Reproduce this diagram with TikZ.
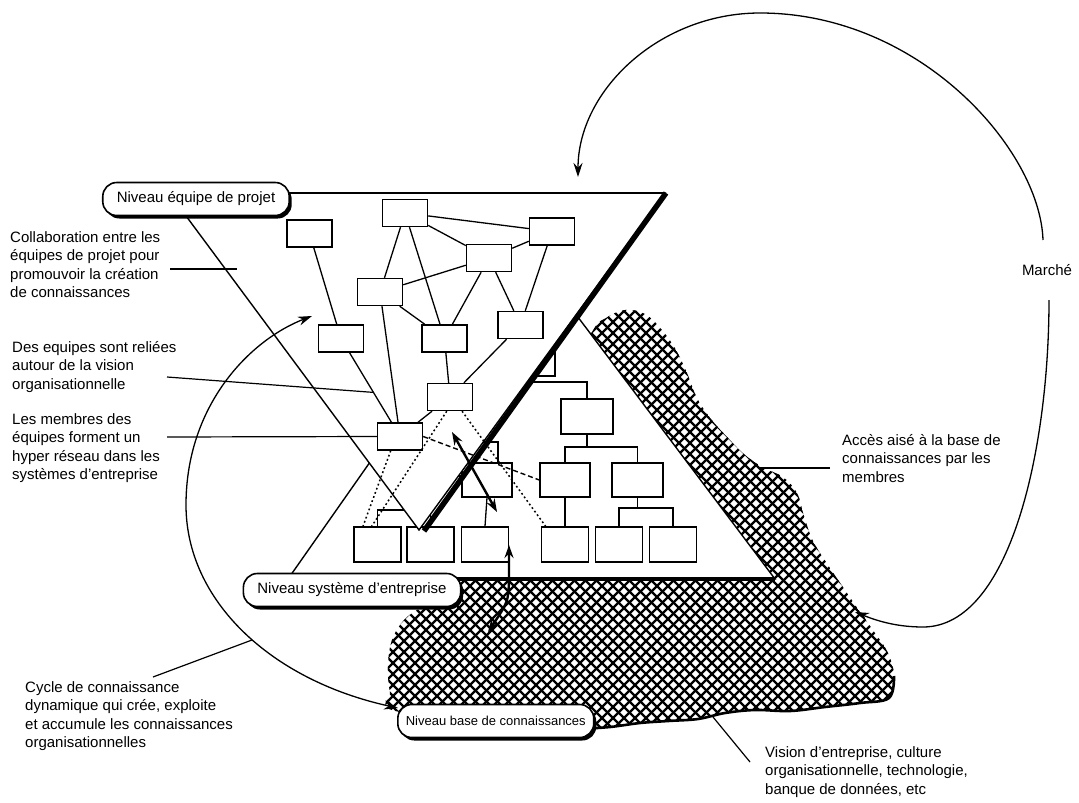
\documentclass[tikz,border=0pt]{standalone}
\usepackage{fontspec}
\setmainfont{Liberation Sans}
\usetikzlibrary{arrows.meta,shadows,calc}
\begin{document}
\begin{tikzpicture}[x=1pt,y=-1pt,
  box/.style={draw,fill=white,line width=1.4,minimum width=45,minimum height=27,inner sep=0},
  obox/.style={draw,fill=white,line width=1.4,minimum width=47,minimum height=35,inner sep=0},
  link/.style={line width=1.3},
  org/.style={line width=1.3},
  lead/.style={line width=1.2},
  hatchline/.style={line width=2.2},
  dots/.style={line width=1.5,dash pattern=on 1.8pt off 2.6pt},
  dashes/.style={line width=1.4,dash pattern=on 5pt off 3pt},
  bigarrow/.style={line width=2.4,{Stealth[length=13pt,width=9pt]}-{Stealth[length=13pt,width=9pt]}},
  loopline/.style={line width=1.3},
  tipend/.style={-{Stealth[length=14pt,width=9pt]}},
  tipboth/.style={{Stealth[length=14pt,width=9pt]}-{Stealth[length=14pt,width=9pt]}},
  txt/.style={anchor=north west,align=left,inner sep=0,font=\fontsize{15}{18.6}\selectfont},
  pill/.style={draw,line width=1.6,fill=white,rounded corners=14,minimum height=33,
    inner xsep=14,inner ysep=0,font=\fontsize{15}{18}\selectfont,
    drop shadow={shadow xshift=2.5pt,shadow yshift=-3pt,opacity=1,fill=black}}
]
\useasboundingbox (0,0) rectangle (1079,803);
\fill[white] (0,0) rectangle (1079,803);

% ---------- knowledge base: cross-hatched area ----------
\def\kbpath{plot[smooth cycle,tension=0.6] coordinates {
  (592,332) (606,318) (625,310) (645,314) (662,330) (676,350) (687,373)
  (697,398) (711,419) (728,438) (745,455) (764,468) (783,477) (797,493)
  (804,516) (813,541) (828,565) (845,590) (860,612) (875,633) (888,653)
  (894,676) (889,698) (860,703) (825,707) (790,711) (755,710) (725,713)
  (698,719) (668,721) (640,723) (610,727) (580,729) (555,722) (400,712)
  (390,692) (388,665) (392,640) (404,620) (422,607) (445,596) (470,560)
  (560,400)}}
\begin{scope}
  \clip \kbpath;
  \foreach \c in {-380,-369,...,620} \draw[hatchline] (\c+300,300) -- (\c+750,750);
  \foreach \c in {660,671,...,1660} \draw[hatchline] (\c-300,300) -- (\c-750,750);
\end{scope}
\draw[line width=2.6] plot[smooth,tension=0.6] coordinates {
  (894,676) (889,698) (860,703) (825,707) (790,711) (755,710) (725,713)
  (698,719) (668,721) (640,723) (610,727) (580,729)};

% ---------- enterprise system level (lower triangle) ----------
\coordinate (lt-l) at (288,579);
\coordinate (lt-t) at (523,244);
\coordinate (lt-r) at (775,579);
\filldraw[fill=white,line width=1.4] (lt-l) -- (lt-t) -- (lt-r) -- cycle;
\draw[line width=4] (lt-l) -- (lt-r);

\node[obox,minimum width=50,minimum height=24] (t0) at (530,364) {};
\node[obox,minimum width=50,minimum height=34] (lt) at (473,459) {};
\node[obox,minimum width=40,minimum height=24] (m1) at (420,482) {};
\node[obox,minimum width=50,minimum height=34] (lm) at (487,480) {};
\node[obox,minimum width=52,minimum height=35] (la) at (587,416.5) {};
\node[obox,minimum width=50,minimum height=34] (lb) at (565,480) {};
\node[obox,minimum width=51,minimum height=34] (lc) at (637.5,480) {};
\node[obox] (l1) at (377.5,544.5) {};
\node[obox] (l2) at (430.5,544.5) {};
\node[obox] (l3) at (485,544.5) {};
\node[obox] (l4) at (565,544.5) {};
\node[obox] (l5) at (619,544.5) {};
\node[obox] (l6) at (673,544.5) {};
\coordinate (bus0) at (0,382);
\coordinate (bus1) at (0,447);
\coordinate (bus2) at (0,508);
\coordinate (bus3) at (0,510);
\draw[org] (t0.south) -- (t0.south |- bus0);
\draw[org] (lt.north) |- (la.north |- bus0) -- (la.north);
\draw[org] (la.south) -- (la.south |- bus1);
\draw[org] (lb.north) |- (lc.north |- bus1) -- (lc.north);
\draw[org] (lb.south) -- (l4.north);
\draw[org] (lc.south) -- (lc.south |- bus2);
\draw[org] (l5.north) |- (l6.north |- bus2) -- (l6.north);
\draw[org] (lm.south) -- (l3.north);
\draw[org] (m1.south) -- (m1.south |- bus3);
\draw[org] (l1.north) |- (l2.north |- bus3) -- (l2.north);

% ---------- project team level (upper triangle) ----------
\coordinate (ut-l) at (169,193);
\coordinate (ut-r) at (665,193);
\coordinate (ut-b) at (419,530);
\filldraw[fill=white,line width=1.4] (ut-l) -- (ut-r) -- (ut-b) -- cycle;
\draw[line width=2] (ut-l) -- (ut-r);
\draw[line width=5.5] ($(ut-r)+(1,0)$) -- ($(ut-b)+(5,1)$);

\node[box] (b1) at (405,213) {};
\node[box] (b2) at (309.5,233.5) {};
\node[box] (b3) at (552,231.5) {};
\node[box] (b4) at (489,258) {};
\node[box] (b5) at (380,292) {};
\node[box] (b6) at (341,338.5) {};
\node[box] (b7) at (444.5,338.5) {};
\node[box] (b8) at (520.5,325) {};
\node[box] (b9) at (450,397) {};
\node[box] (b10) at (400,436.5) {};
\foreach \a/\b in {b1/b3,b1/b5,b1/b7,b1/b4,b4/b3,b2/b6,b5/b4,b5/b7,b5/b10,
                   b4/b7,b4/b8,b3/b8,b7/b9,b8/b9,b6/b10,b9/b10}
  \draw[link] (\a) -- (\b);

% ---------- links between the two levels ----------
\draw[dots] ($(b10.south west)!0.3!(b10.south east)$) -- ($(l1.north west)!0.2!(l1.north east)$);
\draw[dots] ($(b9.south west)!0.43!(b9.south east)$) -- ($(l1.north west)!0.38!(l1.north east)$);
\draw[dots] ($(b9.south west)!0.76!(b9.south east)$) -- ($(l4.north west)!0.1!(l4.north east)$);
\draw[dashes] (b10.east) -- (lb.west);
\coordinate (a1s) at (452,432);
\coordinate (a1e) at (497,512);
\draw[bigarrow] (a1s) -- (a1e);
\coordinate (a2s) at (509,545);
\coordinate (a2e) at (488,632);
\draw[bigarrow] (a2s) -- (509,582) .. controls (508,602) .. (a2e);

% ---------- level labels ----------
\node[pill] (nprojet) at (196,199) {Niveau équipe de projet};
\node[pill] (nsys) at (352,590) {Niveau système d'entreprise};
\node[pill,anchor=west,inner xsep=8,font=\fontsize{13}{16}\selectfont] (nbase) at (397,721) {Niveau base de connaissances};

% ---------- annotations ----------
\node[txt] (tcollab) at (10,231) {Collaboration entre les\\équipes de projet pour\\promouvoir la création\\de connaissances};
\node[txt] (tdes) at (12,341) {Des equipes sont reliées\\autour de la vision\\organisationnelle};
\node[txt] (tmem) at (12,413) {Les membres des\\équipes forment un\\hyper réseau dans les\\systèmes d'entreprise};
\node[txt] (tcyc) at (25,681) {Cycle de connaissance\\dynamique qui crée, exploite\\et accumule les connaissances\\organisationnelles};
\node[txt] (tvis) at (765,746) {Vision d'entreprise, culture\\organisationnelle, technologie,\\banque de données, etc};
\node[txt] (tacc) at (842,434) {Accès aisé à la base de\\connaissances par les\\membres};
\node[font=\fontsize{15}{18}\selectfont,inner sep=0] (mar) at (1047,270) {Marché};

\coordinate (kcollab) at (170,269);
\coordinate (kdes) at (167,377);
\coordinate (kmem) at (167,437);
\coordinate (kcyc) at (153,677);
\coordinate (kcyc2) at (252,640);
\coordinate (kacc) at (830,468);
\coordinate (kacc2) at (760,468);
\coordinate (kvis) at (750,762);
\coordinate (kvis2) at (713,717);
\draw[lead] (kcollab) -- (237,269);
\draw[lead] (kdes) -- ($(b6)!0.55!(b10)$);
\draw[lead] (kmem) -- (b10.west);
\draw[lead] (kcyc) -- (kcyc2);
\draw[lead] (kacc) -- (kacc2);
\draw[lead] (kvis) -- (kvis2);

% ---------- knowledge cycle ----------
\coordinate (ctop) at (312,316);
\coordinate (cleft) at (186,505);
\coordinate (cend) at (398,708);
\draw[loopline,tipboth] (ctop) .. controls (250,340) and (186,405) .. (cleft)
  .. controls (186,600) and (270,680) .. (cend);

% ---------- market loop ----------
\coordinate (mtop) at (1043,240);
\coordinate (mtip) at (578,177);
\coordinate (mbot) at (1049,300);
\coordinate (mhit) at (855,612);
\draw[loopline,tipend] (mtop) .. controls (1040,150) and (920,13) .. (760,13)
  .. controls (660,13) and (578,90) .. (mtip);
\draw[loopline,tipend] (mbot) .. controls (1049,450) and (1010,627) .. (923,627)
  .. controls (895,627) and (875,620) .. (mhit);
\end{tikzpicture}
\end{document}
